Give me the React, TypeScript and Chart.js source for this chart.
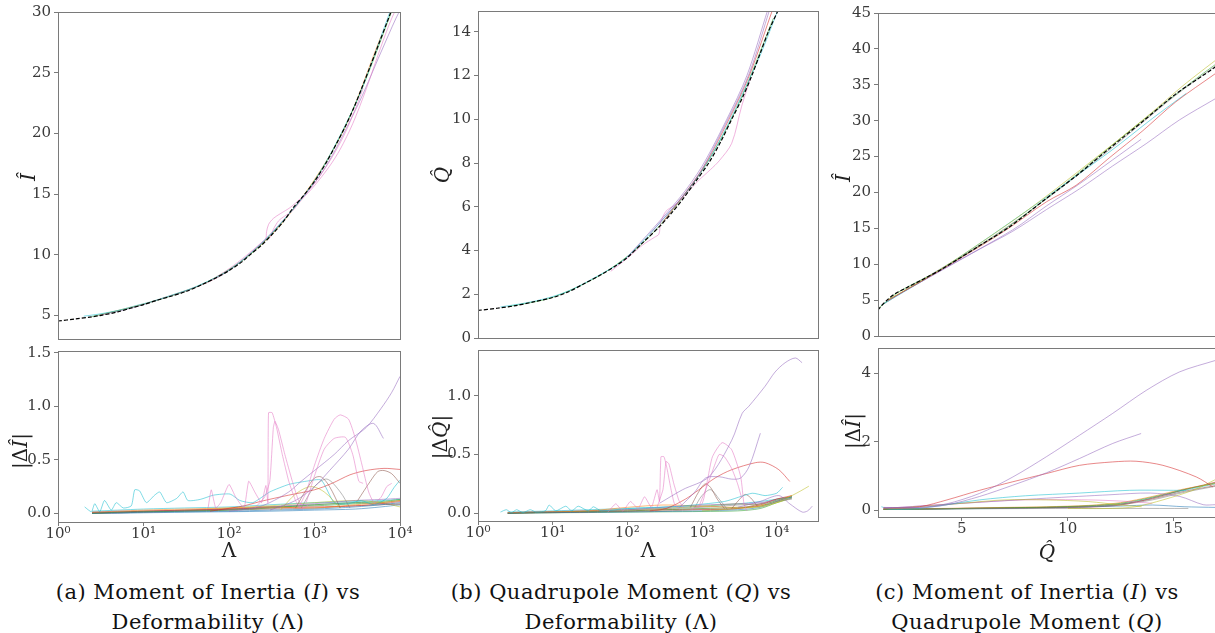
import React, { useEffect, useRef } from "react";
import { Chart, registerables } from "chart.js";
Chart.register(...registerables);

const AXIS_COLOR = "#7a7a7a";
const TICK_COLOR = "#3a3a3a";
const SERIF = '"DejaVu Serif", "Liberation Serif", serif';

const BLUE = "#1f77b4", ORANGE = "#ff7f0e", GREEN = "#2ca02c", RED = "#d62728", PURPLE = "#9467bd";
const BROWN = "#8c564b", PINK = "#e377c2", GRAY = "#7f7f7f", OLIVE = "#bcbd22", CYAN = "#17becf";

// ---------------- Panel (a) top: I-hat vs Lambda ----------------
const A_FIT_LAM = [1, 1.6, 2.5, 3.1, 5, 7, 10, 15, 20, 32, 50, 70, 100, 140, 176, 240, 331, 450, 565, 750, 1000, 1400, 1820, 2300, 2880, 3600, 4470, 5600, 7000, 8450, 10000];
const A_FIT_I = [4.55, 4.72, 4.9, 5.0, 5.3, 5.6, 5.9, 6.3, 6.55, 7.0, 7.6, 8.1, 8.7, 9.4, 10.0, 10.8, 11.8, 12.9, 13.9, 14.9, 16.05, 17.7, 19.2, 20.6, 22.1, 23.8, 25.5, 27.3, 29.1, 30.6, 32.0];
const A_T_CYAN_LAM = [2, 3, 5, 8.5, 12, 20, 40, 100, 300, 1000, 3000, 8000];
const A_T_CYAN_I = [4.95, 5.12, 5.42, 5.85, 6.12, 6.62, 7.35, 8.75, 11.6, 16.1, 22.4, 30.4];
const A_T_PINK1_LAM = [60, 100, 160, 230, 268, 275, 290, 330, 400, 520, 700, 1000, 1500, 2200, 3000, 3700];
const A_T_PINK1_I = [7.85, 8.85, 9.95, 10.9, 11.3, 11.9, 12.5, 13.0, 13.4, 13.9, 14.7, 15.9, 17.7, 19.8, 22.0, 23.7];
const A_T_PINK2_LAM = [300, 330, 380, 450, 550, 700, 1000, 1500, 2000, 2800, 4000, 5500, 7500, 10000];
const A_T_PINK2_I = [11.4, 12.1, 12.8, 13.2, 13.6, 14.5, 15.7, 17.3, 18.7, 20.8, 23.6, 26.4, 29.0, 31.0];
const A_T_PURPLE_LAM = [3, 10, 100, 1000, 3000, 6000, 9000, 12000];
const A_T_PURPLE_I = [5.0, 5.9, 8.7, 15.9, 21.9, 26.7, 29.5, 31.2];
const A_T_GREEN_LAM = [2.5, 10, 50, 200, 1000, 3000, 9000];
const A_T_GREEN_I = [4.92, 5.92, 7.62, 10.35, 16.1, 22.4, 31.0];
const A_T_ORANGE_LAM = [3, 15, 80, 400, 2000, 6000];
const A_T_ORANGE_I = [5.02, 6.32, 8.3, 12.45, 19.7, 28.0];

// ---------------- Panel (a) bottom: |dI| vs Lambda ----------------
const A_B_CYAN_LAM = [2.05, 2.46, 2.69, 3.08, 3.5, 4.2, 4.8, 5.8, 7.2, 7.9, 9, 10.8, 13.5, 15.5, 18.6, 24.5, 29, 33, 46, 66, 103, 134, 190, 300, 500, 800, 1200, 1700, 2500, 3500, 5000, 7000, 8500, 10000];
const A_B_CYAN_D = [0.06, 0.015, 0.09, 0.015, 0.12, 0.03, 0.1, 0.05, 0.07, 0.22, 0.21, 0.1, 0.17, 0.2, 0.1, 0.14, 0.2, 0.12, 0.13, 0.17, 0.18, 0.12, 0.1, 0.2, 0.27, 0.3, 0.31, 0.1, 0.09, 0.12, 0.08, 0.14, 0.24, 0.31];
const A_B_PINKA_LAM = [57, 62, 70, 80, 100, 120, 150, 170, 200, 240, 270, 285, 290, 320, 360, 420, 500, 600, 700, 850];
const A_B_PINKA_D = [0.05, 0.22, 0.05, 0.1, 0.27, 0.15, 0.05, 0.3, 0.2, 0.1, 0.26, 0.1, 0.94, 0.94, 0.8, 0.55, 0.3, 0.12, 0.04, 0.08];
const A_B_PINKB_LAM = [200, 260, 300, 330, 345, 380, 450, 550, 650, 750];
const A_B_PINKB_D = [0.05, 0.15, 0.3, 0.8, 0.86, 0.78, 0.55, 0.3, 0.12, 0.05];
const A_B_PINKC_LAM = [650, 800, 1000, 1300, 1700, 2000, 2500, 3000, 3600, 4300, 5000, 6000, 7000, 8000];
const A_B_PINKC_D = [0.05, 0.2, 0.45, 0.7, 0.88, 0.92, 0.88, 0.7, 0.45, 0.2, 0.1, 0.15, 0.25, 0.28];
const A_B_PINKD_LAM = [800, 1000, 1300, 1700, 2300, 2800, 3300, 3700];
const A_B_PINKD_D = [0.1, 0.35, 0.6, 0.7, 0.71, 0.55, 0.3, 0.28];
const A_B_PURPLE1_LAM = [100, 200, 300, 500, 700, 1000, 1700, 2500, 4000, 6000, 8000, 10000];
const A_B_PURPLE1_D = [0.02, 0.05, 0.1, 0.2, 0.3, 0.4, 0.55, 0.68, 0.8, 0.98, 1.13, 1.28];
const A_B_PURPLE2_LAM = [300, 600, 1000, 1500, 2500, 3500, 4900, 6400];
const A_B_PURPLE2_D = [0.03, 0.12, 0.25, 0.4, 0.6, 0.77, 0.84, 0.7];
const A_B_RED_LAM = [60, 150, 230, 500, 1000, 1600, 2600, 4000, 6500, 10000];
const A_B_RED_D = [0.02, 0.07, 0.11, 0.17, 0.22, 0.28, 0.36, 0.4, 0.42, 0.41];
const A_B_BROWN1_LAM = [3200, 4500, 5500, 6500, 8000, 10000];
const A_B_BROWN1_D = [0.12, 0.3, 0.39, 0.4, 0.37, 0.28];
const A_B_BROWN2_LAM = [600, 800, 1000, 1200, 1500, 2000];
const A_B_BROWN2_D = [0.05, 0.22, 0.33, 0.34, 0.25, 0.05];
const A_B_OLIVE_LAM = [400, 600, 900, 1300, 2000];
const A_B_OLIVE_D = [0.03, 0.18, 0.25, 0.2, 0.05];
const A_B_GRAY_LAM = [700, 1000, 1400, 2000, 2600];
const A_B_GRAY_D = [0.05, 0.25, 0.32, 0.2, 0.05];
const A_BAND_LAM = [2.5, 5, 10, 30, 100, 300, 1000, 3000, 6000, 10000];
const A_BAND_BLUE = [0.0, 0.005, 0.01, 0.015, 0.02, 0.03, 0.04, 0.06, 0.08, 0.1];
const A_BAND_ORANGE = [0.01, 0.02, 0.03, 0.04, 0.05, 0.06, 0.05, 0.08, 0.1, 0.12];
const A_BAND_GREEN = [0.0, 0.01, 0.015, 0.02, 0.03, 0.05, 0.08, 0.1, 0.11, 0.13];
const A_BAND_RED = [0.005, 0.01, 0.02, 0.03, 0.04, 0.05, 0.06, 0.07, 0.09, 0.11];
const A_BAND_PURPLE = [0.01, 0.02, 0.02, 0.03, 0.04, 0.06, 0.09, 0.12, 0.13, 0.14];
const A_BAND_BROWN = [0.0, 0.005, 0.01, 0.02, 0.03, 0.04, 0.05, 0.07, 0.08, 0.09];
const A_BAND_GRAY = [0.01, 0.015, 0.02, 0.025, 0.035, 0.06, 0.08, 0.1, 0.09, 0.08];
const A_BAND_OLIVE = [0.0, 0.01, 0.02, 0.03, 0.05, 0.07, 0.1, 0.12, 0.1, 0.06];
const A_BAND_CYAN = [0.02, 0.03, 0.04, 0.05, 0.06, 0.08, 0.1, 0.11, 0.12, 0.13];
const A_BAND_BLUE2 = [0.0, 0.0, 0.005, 0.01, 0.015, 0.02, 0.03, 0.04, 0.06, 0.08];
const A_BAND_GREEN2 = [0.005, 0.01, 0.015, 0.025, 0.04, 0.06, 0.07, 0.09, 0.1, 0.12];

// ---------------- Panel (b) top: Q-hat vs Lambda ----------------
const B_FIT_LAM = [1, 1.8, 3.2, 5.5, 10, 16, 27, 45, 70, 100, 160, 280, 400, 540, 800, 1230, 1800, 2500, 3500, 4650, 6000, 7740, 10500, 13000];
const B_FIT_Q = [1.26, 1.36, 1.48, 1.65, 1.85, 2.1, 2.5, 2.9, 3.3, 3.68, 4.35, 5.15, 5.75, 6.3, 7.1, 8.0, 9.0, 10.0, 11.0, 12.0, 13.0, 14.0, 15.0, 15.8];
const B_T_PURPLE_LAM = [100, 500, 1000, 2150, 4000, 7600, 9500];
const B_T_PURPLE_Q = [3.7, 6.4, 7.85, 10.0, 12.0, 15.0, 16.0];
const B_T_PURPLE2_LAM = [200, 800, 2300, 4300, 8200];
const B_T_PURPLE2_Q = [4.75, 7.2, 10.1, 12.1, 15.1];
const B_T_RED_LAM = [300, 1000, 2300, 4300, 8800, 11000];
const B_T_RED_Q = [5.3, 7.7, 10.0, 12.0, 15.0, 15.9];
const B_T_PINK_LAM = [60, 100, 160, 230, 265, 280, 330, 420, 490, 600, 900, 1300, 1700, 2500, 3400, 4500];
const B_T_PINK_Q = [3.05, 3.65, 4.25, 4.6, 4.75, 5.3, 5.8, 6.05, 6.25, 6.55, 7.2, 7.7, 8.1, 8.9, 10.6, 11.9];
const B_T_CYAN_LAM = [2, 4, 8, 15, 30, 100, 1000, 5000, 11000];
const B_T_CYAN_Q = [1.42, 1.58, 1.8, 2.1, 2.6, 3.72, 7.65, 12.3, 15.2];
const B_T_GREEN_LAM = [2.5, 10, 50, 200, 1000, 3000, 9000];
const B_T_GREEN_Q = [1.43, 1.86, 3.0, 4.65, 7.65, 10.6, 14.6];

// ---------------- Panel (b) bottom: |dQ| vs Lambda ----------------
const B_B_PURPLE1_LAM = [270, 550, 1240, 2500, 3460, 4250, 7000, 9500, 13000, 17800, 21900];
const B_B_PURPLE1_D = [0.085, 0.2, 0.31, 0.62, 0.85, 0.91, 1.08, 1.2, 1.28, 1.32, 1.28];
const B_B_PURPLE2_LAM = [500, 800, 1120, 1700, 2500, 3300, 4300, 6050];
const B_B_PURPLE2_D = [0.05, 0.18, 0.3, 0.31, 0.29, 0.3, 0.4, 0.68];
const B_B_PURPLE3_LAM = [3000, 6000, 10700, 15000, 22000, 26000, 30000];
const B_B_PURPLE3_D = [0.05, 0.1, 0.15, 0.08, 0.01, 0.02, 0.06];
const B_B_PINKA_LAM = [55, 70, 87, 110, 140, 170, 210, 250, 270, 282, 310, 340, 380, 425, 500];
const B_B_PINKA_D = [0.01, 0.08, 0.02, 0.1, 0.04, 0.14, 0.05, 0.2, 0.1, 0.48, 0.48, 0.38, 0.22, 0.085, 0.03];
const B_B_PINKB_LAM = [250, 300, 330, 360, 420, 490, 560];
const B_B_PINKB_D = [0.05, 0.2, 0.44, 0.42, 0.25, 0.11, 0.05];
const B_B_PINKC_LAM = [700, 1000, 1200, 1380, 1860, 2500, 3300, 3650, 4000];
const B_B_PINKC_D = [0.03, 0.08, 0.3, 0.48, 0.6, 0.54, 0.31, 0.08, 0.02];
const B_B_PINKD_LAM = [900, 1200, 1500, 1700, 2000, 2500, 3000, 3400];
const B_B_PINKD_D = [0.05, 0.25, 0.42, 0.5, 0.48, 0.38, 0.25, 0.13];
const B_B_RED_LAM = [200, 330, 600, 910, 1500, 2500, 5200, 7000, 10700, 15000];
const B_B_RED_D = [0.02, 0.04, 0.12, 0.2, 0.3, 0.37, 0.43, 0.43, 0.37, 0.27];
const B_B_CYAN_LAM = [2, 2.4, 2.8, 3.3, 4, 5, 6, 8, 9, 11, 15, 18, 22, 30, 35, 45, 100, 500, 2000, 4700, 7000, 10000, 12000];
const B_B_CYAN_D = [0.01, 0.03, 0.005, 0.03, 0.005, 0.03, 0.01, 0.02, 0.07, 0.02, 0.06, 0.02, 0.06, 0.02, 0.055, 0.02, 0.04, 0.06, 0.1, 0.17, 0.15, 0.17, 0.22];
const B_B_OLIVE_LAM = [1000, 3000, 7000, 11000, 16000, 21000, 27000];
const B_B_OLIVE_D = [0.02, 0.04, 0.06, 0.1, 0.15, 0.19, 0.23];
const B_B_BROWN1_LAM = [700, 900, 1100, 1300, 1600, 2000];
const B_B_BROWN1_D = [0.05, 0.18, 0.25, 0.22, 0.12, 0.04];
const B_B_BROWN2_LAM = [2500, 3200, 3800, 4500, 5500];
const B_B_BROWN2_D = [0.04, 0.12, 0.16, 0.13, 0.06];
const B_B_GRAY_LAM = [800, 1000, 1300, 1700, 2200];
const B_B_GRAY_D = [0.05, 0.15, 0.2, 0.12, 0.03];
const B_BAND_LAM = [2.5, 5, 10, 30, 100, 300, 1000, 3000, 6000, 10000, 16000];
const B_BAND_BLUE = [0.0, 0.003, 0.005, 0.008, 0.01, 0.015, 0.02, 0.03, 0.05, 0.1, 0.14];
const B_BAND_ORANGE = [0.005, 0.01, 0.012, 0.02, 0.05, 0.07, 0.06, 0.05, 0.06, 0.1, 0.15];
const B_BAND_GREEN = [0.0, 0.005, 0.01, 0.015, 0.02, 0.03, 0.04, 0.05, 0.06, 0.11, 0.14];
const B_BAND_RED = [0.0, 0.005, 0.008, 0.012, 0.02, 0.03, 0.035, 0.04, 0.07, 0.12, 0.15];
const B_BAND_PURPLE = [0.005, 0.01, 0.015, 0.02, 0.03, 0.05, 0.07, 0.08, 0.09, 0.11, 0.13];
const B_BAND_BROWN = [0.0, 0.003, 0.005, 0.01, 0.015, 0.02, 0.03, 0.04, 0.08, 0.12, 0.14];
const B_BAND_GRAY = [0.003, 0.008, 0.012, 0.02, 0.03, 0.04, 0.05, 0.07, 0.08, 0.1, 0.12];
const B_BAND_OLIVE = [0.0, 0.005, 0.01, 0.02, 0.03, 0.04, 0.06, 0.08, 0.07, 0.09, 0.13];
const B_BAND_CYAN = [0.01, 0.015, 0.02, 0.03, 0.04, 0.05, 0.06, 0.08, 0.1, 0.12, 0.14];
const B_BAND_GREEN2 = [0.0, 0.002, 0.004, 0.006, 0.01, 0.012, 0.015, 0.02, 0.04, 0.09, 0.13];

// ---------------- Panel (c) top: I-hat vs Q-hat ----------------
const C_FIT_Q = [1.03, 1.2, 1.43, 1.8, 2.37, 3.2, 4.1, 5.68, 7.25, 8.83, 10.4, 12.0, 13.55, 15.1, 16.94, 17.5];
const C_FIT_I = [3.6, 4.2, 4.9, 5.8, 6.7, 7.95, 9.4, 12.3, 15.2, 18.8, 22.3, 26.2, 29.9, 33.7, 37.4, 38.7];
const C_T_OLIVE_Q = [1.5, 4, 8, 12, 14, 15.5, 17.2];
const C_T_OLIVE_I = [5.0, 9.3, 17.3, 26.4, 31.2, 35.0, 38.9];
const C_T_RED_Q = [1.5, 4, 7, 9, 10.4, 12, 13.55, 15.1, 17.0];
const C_T_RED_I = [4.95, 9.2, 14.6, 18.7, 21.0, 24.9, 28.6, 32.6, 36.6];
const C_T_PURPLE1_Q = [1.5, 4.26, 5.84, 7.41, 8.99, 10.56, 12.13, 13.71, 15.28, 17.0];
const C_T_PURPLE1_I = [4.95, 9.5, 12.1, 14.6, 17.6, 20.5, 23.7, 26.8, 30.1, 33.1];
const C_T_PURPLE2_Q = [1.5, 4.26, 7.41, 8.99, 10.56, 12.13, 13.47];
const C_T_PURPLE2_I = [4.95, 9.55, 14.8, 18.1, 21.2, 24.55, 27.4];
const C_T_CYAN_Q = [1.2, 4, 8, 12, 14, 15.6];
const C_T_CYAN_I = [4.3, 9.25, 17.3, 25.7, 30.3, 33.8];
const C_T_GREEN_Q = [1.1, 2, 4, 7, 10, 13, 16, 17.2];
const C_T_GREEN_I = [3.95, 6.1, 9.25, 14.8, 21.5, 28.75, 35.7, 38.3];
const C_T_GRAY_Q = [1.2, 3, 6, 9, 12, 15, 17.2];
const C_T_GRAY_I = [4.25, 7.6, 12.95, 19.1, 26.0, 33.3, 38.1];

// ---------------- Panel (c) bottom: |dI| vs Q-hat ----------------
const C_B_PURPLE1_Q = [1.3, 3.0, 4.26, 5.84, 7.41, 8.99, 10.56, 12.13, 13.71, 15.28, 17.0];
const C_B_PURPLE1_D = [0.08, 0.08, 0.18, 0.49, 0.97, 1.56, 2.19, 2.83, 3.5, 4.04, 4.38];
const C_B_PURPLE2_Q = [1.3, 3.0, 4.26, 5.84, 7.41, 8.99, 10.56, 12.13, 13.47];
const C_B_PURPLE2_D = [0.07, 0.08, 0.15, 0.4, 0.73, 1.09, 1.51, 1.95, 2.24];
const C_B_RED_Q = [1.3, 3.0, 4.3, 5.84, 7.41, 8.99, 10.56, 12.13, 13.23, 14.5, 16.08, 16.86];
const C_B_RED_D = [0.06, 0.1, 0.3, 0.58, 0.83, 1.07, 1.31, 1.41, 1.43, 1.31, 0.97, 0.68];
const C_B_CYAN_Q = [1.2, 1.6, 3, 5.84, 8, 10.56, 12.92, 15.0, 15.6];
const C_B_CYAN_D = [0.1, 0.03, 0.05, 0.3, 0.42, 0.5, 0.58, 0.58, 0.58];
const C_B_OLIVE_Q = [1.3, 3, 5, 7, 9, 11, 12.5, 13.5];
const C_B_OLIVE_D = [0.05, 0.1, 0.2, 0.3, 0.3, 0.25, 0.15, 0.1];
const C_B_YELLOW_Q = [10, 12, 13.2, 14.5, 16, 17.0];
const C_B_YELLOW_D = [0.05, 0.05, 0.1, 0.3, 0.6, 0.9];
const C_B_PURPLE3_Q = [1.3, 5, 9, 12, 13.9, 15.3, 16.4, 17.0];
const C_B_PURPLE3_D = [0.05, 0.2, 0.35, 0.45, 0.5, 0.4, 0.16, 0.16];
const C_B_PINK_Q = [1.3, 5, 8, 11, 13, 14];
const C_B_PINK_D = [0.05, 0.2, 0.3, 0.3, 0.25, 0.2];
const C_B_GRAY_Q = [1.3, 5, 10, 15.7];
const C_B_GRAY_D = [0.03, 0.04, 0.05, 0.05];
const C_BAND_Q = [1.3, 3, 5, 7, 9, 11, 12.5, 14, 15.5, 17.0];
const C_BAND_GREEN = [0.02, 0.03, 0.05, 0.07, 0.09, 0.13, 0.2, 0.38, 0.6, 0.8];
const C_BAND_ORANGE = [0.03, 0.04, 0.06, 0.08, 0.1, 0.14, 0.22, 0.4, 0.62, 0.78];
const C_BAND_BROWN = [0.02, 0.03, 0.04, 0.06, 0.08, 0.12, 0.18, 0.33, 0.55, 0.72];
const C_BAND_GRAY = [0.03, 0.04, 0.05, 0.07, 0.08, 0.1, 0.16, 0.3, 0.52, 0.7];
const C_BAND_BLUE = [0.02, 0.03, 0.05, 0.06, 0.08, 0.1, 0.12, 0.15, 0.1, 0.08];
const C_BAND_RED = [0.03, 0.04, 0.05, 0.06, 0.07, 0.09, 0.15, 0.35, 0.6, 0.82];
const C_BAND_TEAL = [0.02, 0.03, 0.04, 0.05, 0.07, 0.1, 0.17, 0.36, 0.58, 0.77];

// ---------------- Ticks ----------------
const LOG_TICKS = [1, 10, 100, 1000, 10000];
const LOG_TICK_LABELS = ["10⁰", "10¹", "10²", "10³", "10⁴"];
const A_TOP_YTICKS = [5, 10, 15, 20, 25, 30];
const A_BOT_YTICKS = [0, 0.5, 1.0, 1.5];
const A_BOT_YLABELS = ["0.0", "0.5", "1.0", "1.5"];
const B_TOP_YTICKS = [0, 2, 4, 6, 8, 10, 12, 14];
const B_BOT_YTICKS = [0, 0.5, 1.0];
const B_BOT_YLABELS = ["0.0", "0.5", "1.0"];
const C_TOP_YTICKS = [0, 5, 10, 15, 20, 25, 30, 35, 40, 45];
const C_BOT_YTICKS = [0, 2, 4];
const C_XTICKS = [5, 10, 15];

type Line = { x: number[]; y: number[]; color: string; fit?: boolean; tension?: number };
type Spec = {
  l: number; t: number; r: number; b: number;
  xType: "logarithmic" | "linear"; xMin: number; xMax: number;
  yMin: number; yMax: number;
  yTicks: number[]; yLabels: string[];
  xTicks?: number[]; xLabels?: string[];
};

const L = (x: number[], y: number[], color: string, tension = 0.3): Line => ({ x, y, color, tension });
const FIT = (x: number[], y: number[]): Line => ({ x, y, color: "#000", fit: true, tension: 0.3 });

function hexA(hex: string, a: number) {
  const n = parseInt(hex.slice(1), 16);
  return `rgba(${(n >> 16) & 255},${(n >> 8) & 255},${n & 255},${a})`;
}

const framePlugin = {
  id: "frame",
  afterDatasetsDraw(chart: any) {
    const { ctx, chartArea: a } = chart;
    ctx.save();
    ctx.strokeStyle = AXIS_COLOR;
    ctx.lineWidth = 1;
    const l = Math.round(a.left) + 0.5, t = Math.round(a.top) + 0.5;
    ctx.strokeRect(l, t, Math.round(a.right) - Math.round(a.left), Math.round(a.bottom) - Math.round(a.top));
    ctx.restore();
  },
};

const YW = 60, PT = 14, PR = 22;

function Panel({ spec, lines }: { spec: Spec; lines: Line[] }) {
  const ref = useRef<HTMLCanvasElement>(null);
  const XH = spec.xTicks ? 32 : 0;
  const w = YW + (spec.r - spec.l) + PR;
  const h = PT + (spec.b - spec.t) + XH;
  useEffect(() => {
    const font = { family: SERIF, size: 15 };
    const chart = new Chart(ref.current as HTMLCanvasElement, {
      type: "line",
      data: {
        datasets: lines.map((ln) => ({
          data: ln.x.map((x, i) => ({ x, y: ln.y[i] })),
          borderColor: ln.fit ? "#000" : hexA(ln.color, 0.55),
          borderWidth: ln.fit ? 1.2 : 1,
          borderDash: ln.fit ? [4, 2] : [],
          pointRadius: 0,
          tension: ln.tension ?? 0.3,
          fill: false,
        })),
      },
      options: {
        responsive: false,
        animation: false,
        devicePixelRatio: 1,
        events: [],
        layout: { padding: { left: 0, top: PT, right: PR, bottom: 0 } },
        plugins: { legend: { display: false }, tooltip: { enabled: false } },
        scales: {
          x: {
            type: spec.xType,
            min: spec.xMin,
            max: spec.xMax,
            display: !!spec.xTicks,
            afterFit: (s: any) => { s.height = XH; },
            afterBuildTicks: (s: any) => { if (spec.xTicks) s.ticks = spec.xTicks.map((v) => ({ value: v })); },
            ticks: {
              autoSkip: false, maxRotation: 0, minRotation: 0, padding: -1, color: TICK_COLOR, font,
              callback: (_v: any, i: number) => (spec.xLabels ? spec.xLabels[i] : ""),
            },
            grid: { drawOnChartArea: false, drawTicks: true, tickLength: 4, color: AXIS_COLOR },
            border: { display: false },
          },
          y: {
            type: "linear",
            min: spec.yMin,
            max: spec.yMax,
            afterFit: (s: any) => { s.width = YW; },
            afterBuildTicks: (s: any) => { s.ticks = spec.yTicks.map((v) => ({ value: v })); },
            ticks: {
              autoSkip: false, padding: 3, color: TICK_COLOR, font,
              callback: (_v: any, i: number) => spec.yLabels[i],
            },
            grid: { drawOnChartArea: false, drawTicks: true, tickLength: 4, color: AXIS_COLOR },
            border: { display: false },
          },
        },
      } as any,
      plugins: [framePlugin],
    });
    return () => chart.destroy();
  }, []);
  return (
    <canvas
      ref={ref}
      width={w}
      height={h}
      style={{ position: "absolute", left: spec.l - YW, top: spec.t - PT, width: w, height: h }}
    />
  );
}

const SPEC_A_TOP: Spec = { l: 58, t: 12, r: 400, b: 351, xType: "logarithmic", xMin: 1, xMax: 10000, yMin: 3.07, yMax: 30, yTicks: A_TOP_YTICKS, yLabels: A_TOP_YTICKS.map(String) };
const SPEC_A_BOT: Spec = { l: 58, t: 351, r: 400, b: 522, xType: "logarithmic", xMin: 1, xMax: 10000, yMin: -0.081, yMax: 1.517, yTicks: A_BOT_YTICKS, yLabels: A_BOT_YLABELS, xTicks: LOG_TICKS, xLabels: LOG_TICK_LABELS };
const SPEC_B_TOP: Spec = { l: 478, t: 11, r: 818, b: 350, xType: "logarithmic", xMin: 1, xMax: 35800, yMin: 0, yMax: 14.95, yTicks: B_TOP_YTICKS, yLabels: B_TOP_YTICKS.map(String) };
const SPEC_B_BOT: Spec = { l: 478, t: 350, r: 818, b: 521, xType: "logarithmic", xMin: 1, xMax: 35800, yMin: -0.066, yMax: 1.388, yTicks: B_BOT_YTICKS, yLabels: B_BOT_YLABELS, xTicks: LOG_TICKS, xLabels: LOG_TICK_LABELS };
const SPEC_C_TOP: Spec = { l: 878, t: 13, r: 1215, b: 348, xType: "linear", xMin: 1.04, xMax: 16.96, yMin: 0, yMax: 45, yTicks: C_TOP_YTICKS, yLabels: C_TOP_YTICKS.map(String) };
const SPEC_C_BOT: Spec = { l: 878, t: 348, r: 1215, b: 517, xType: "linear", xMin: 1.04, xMax: 16.96, yMin: -0.2, yMax: 4.74, yTicks: C_BOT_YTICKS, yLabels: C_BOT_YTICKS.map(String), xTicks: C_XTICKS, xLabels: C_XTICKS.map(String) };

const LINES_A_TOP: Line[] = [
  FIT(A_FIT_LAM, A_FIT_I),
  L(A_T_CYAN_LAM, A_T_CYAN_I, CYAN),
  L(A_T_PINK1_LAM, A_T_PINK1_I, PINK),
  L(A_T_PINK2_LAM, A_T_PINK2_I, PINK),
  L(A_T_PURPLE_LAM, A_T_PURPLE_I, PURPLE),
  L(A_T_GREEN_LAM, A_T_GREEN_I, GREEN),
  L(A_T_ORANGE_LAM, A_T_ORANGE_I, ORANGE),
];
const LINES_A_BOT: Line[] = [
  L(A_B_PINKA_LAM, A_B_PINKA_D, PINK, 0.15),
  L(A_B_PINKB_LAM, A_B_PINKB_D, PINK, 0.15),
  L(A_B_PINKC_LAM, A_B_PINKC_D, PINK, 0.2),
  L(A_B_PINKD_LAM, A_B_PINKD_D, PINK, 0.2),
  L(A_B_PURPLE1_LAM, A_B_PURPLE1_D, PURPLE),
  L(A_B_PURPLE2_LAM, A_B_PURPLE2_D, PURPLE),
  L(A_B_RED_LAM, A_B_RED_D, RED),
  L(A_B_BROWN1_LAM, A_B_BROWN1_D, BROWN),
  L(A_B_BROWN2_LAM, A_B_BROWN2_D, BROWN),
  L(A_B_OLIVE_LAM, A_B_OLIVE_D, OLIVE),
  L(A_B_GRAY_LAM, A_B_GRAY_D, GRAY),
  L(A_B_CYAN_LAM, A_B_CYAN_D, CYAN, 0.2),
  L(A_BAND_LAM, A_BAND_BLUE, BLUE),
  L(A_BAND_LAM, A_BAND_ORANGE, ORANGE),
  L(A_BAND_LAM, A_BAND_GREEN, GREEN),
  L(A_BAND_LAM, A_BAND_RED, RED),
  L(A_BAND_LAM, A_BAND_PURPLE, PURPLE),
  L(A_BAND_LAM, A_BAND_BROWN, BROWN),
  L(A_BAND_LAM, A_BAND_GRAY, GRAY),
  L(A_BAND_LAM, A_BAND_OLIVE, OLIVE),
  L(A_BAND_LAM, A_BAND_CYAN, CYAN),
  L(A_BAND_LAM, A_BAND_BLUE2, BLUE),
  L(A_BAND_LAM, A_BAND_GREEN2, GREEN),
];
const LINES_B_TOP: Line[] = [
  FIT(B_FIT_LAM, B_FIT_Q),
  L(B_T_PURPLE_LAM, B_T_PURPLE_Q, PURPLE),
  L(B_T_PURPLE2_LAM, B_T_PURPLE2_Q, PURPLE),
  L(B_T_RED_LAM, B_T_RED_Q, RED),
  L(B_T_PINK_LAM, B_T_PINK_Q, PINK),
  L(B_T_CYAN_LAM, B_T_CYAN_Q, CYAN),
  L(B_T_GREEN_LAM, B_T_GREEN_Q, GREEN),
];
const LINES_B_BOT: Line[] = [
  L(B_B_PURPLE1_LAM, B_B_PURPLE1_D, PURPLE),
  L(B_B_PURPLE2_LAM, B_B_PURPLE2_D, PURPLE),
  L(B_B_PURPLE3_LAM, B_B_PURPLE3_D, PURPLE),
  L(B_B_PINKA_LAM, B_B_PINKA_D, PINK, 0.15),
  L(B_B_PINKB_LAM, B_B_PINKB_D, PINK, 0.15),
  L(B_B_PINKC_LAM, B_B_PINKC_D, PINK, 0.2),
  L(B_B_PINKD_LAM, B_B_PINKD_D, PINK, 0.2),
  L(B_B_RED_LAM, B_B_RED_D, RED),
  L(B_B_CYAN_LAM, B_B_CYAN_D, CYAN, 0.2),
  L(B_B_OLIVE_LAM, B_B_OLIVE_D, OLIVE),
  L(B_B_BROWN1_LAM, B_B_BROWN1_D, BROWN),
  L(B_B_BROWN2_LAM, B_B_BROWN2_D, BROWN),
  L(B_B_GRAY_LAM, B_B_GRAY_D, GRAY),
  L(B_BAND_LAM, B_BAND_BLUE, BLUE),
  L(B_BAND_LAM, B_BAND_ORANGE, ORANGE),
  L(B_BAND_LAM, B_BAND_GREEN, GREEN),
  L(B_BAND_LAM, B_BAND_RED, RED),
  L(B_BAND_LAM, B_BAND_PURPLE, PURPLE),
  L(B_BAND_LAM, B_BAND_BROWN, BROWN),
  L(B_BAND_LAM, B_BAND_GRAY, GRAY),
  L(B_BAND_LAM, B_BAND_OLIVE, OLIVE),
  L(B_BAND_LAM, B_BAND_CYAN, CYAN),
  L(B_BAND_LAM, B_BAND_GREEN2, GREEN),
];
const LINES_C_TOP: Line[] = [
  FIT(C_FIT_Q, C_FIT_I),
  L(C_T_OLIVE_Q, C_T_OLIVE_I, OLIVE),
  L(C_T_RED_Q, C_T_RED_I, RED),
  L(C_T_PURPLE1_Q, C_T_PURPLE1_I, PURPLE),
  L(C_T_PURPLE2_Q, C_T_PURPLE2_I, PURPLE),
  L(C_T_CYAN_Q, C_T_CYAN_I, CYAN),
  L(C_T_GREEN_Q, C_T_GREEN_I, GREEN),
  L(C_T_GRAY_Q, C_T_GRAY_I, GRAY),
];
const LINES_C_BOT: Line[] = [
  L(C_B_PURPLE1_Q, C_B_PURPLE1_D, PURPLE),
  L(C_B_PURPLE2_Q, C_B_PURPLE2_D, PURPLE),
  L(C_B_RED_Q, C_B_RED_D, RED),
  L(C_B_CYAN_Q, C_B_CYAN_D, CYAN),
  L(C_B_OLIVE_Q, C_B_OLIVE_D, OLIVE),
  L(C_B_YELLOW_Q, C_B_YELLOW_D, OLIVE),
  L(C_B_PURPLE3_Q, C_B_PURPLE3_D, PURPLE),
  L(C_B_PINK_Q, C_B_PINK_D, PINK),
  L(C_B_GRAY_Q, C_B_GRAY_D, GRAY),
  L(C_BAND_Q, C_BAND_GREEN, GREEN),
  L(C_BAND_Q, C_BAND_ORANGE, ORANGE),
  L(C_BAND_Q, C_BAND_BROWN, BROWN),
  L(C_BAND_Q, C_BAND_GRAY, GRAY),
  L(C_BAND_Q, C_BAND_BLUE, BLUE),
  L(C_BAND_Q, C_BAND_RED, RED),
  L(C_BAND_Q, C_BAND_TEAL, CYAN),
];

function Label({ x, y, rot, size = 20, children }: { x: number; y: number; rot?: boolean; size?: number; children: React.ReactNode }) {
  return (
    <div
      style={{
        position: "absolute", left: x, top: y,
        transform: `translate(-50%, -50%)${rot ? " rotate(-90deg)" : ""}`,
        fontSize: size, lineHeight: 1, whiteSpace: "nowrap", color: "#222", fontFamily: SERIF,
      }}
    >
      {children}
    </div>
  );
}

function Caption({ cx, children }: { cx: number; children: React.ReactNode }) {
  return (
    <div
      style={{
        position: "absolute", left: cx, top: 577, transform: "translateX(-50%)",
        textAlign: "center", fontSize: 21, lineHeight: "30px", whiteSpace: "nowrap",
        color: "#111", fontFamily: SERIF, letterSpacing: "0.5px",
      }}
    >
      {children}
    </div>
  );
}

const IHAT = <i>Î</i>;
const QHAT = <i>Q&#x302;</i>;

export default function App() {
  return (
    <div style={{ position: "fixed", left: 0, top: 0, width: 1215, height: 633, background: "#fff", overflow: "hidden" }}>
      <Panel spec={SPEC_A_TOP} lines={LINES_A_TOP} />
      <Panel spec={SPEC_A_BOT} lines={LINES_A_BOT} />
      <Panel spec={SPEC_B_TOP} lines={LINES_B_TOP} />
      <Panel spec={SPEC_B_BOT} lines={LINES_B_BOT} />
      <Panel spec={SPEC_C_TOP} lines={LINES_C_TOP} />
      <Panel spec={SPEC_C_BOT} lines={LINES_C_BOT} />

      <Label x={28} y={177} rot>{IHAT}</Label>
      <Label x={20} y={451} rot>|Δ{IHAT}|</Label>
      <Label x={229} y={550}>Λ</Label>

      <Label x={442} y={175} rot>{QHAT}</Label>
      <Label x={440} y={437} rot>|Δ{QHAT}|</Label>
      <Label x={648} y={550}>Λ</Label>

      <Label x={843} y={178} rot>{IHAT}</Label>
      <Label x={853} y={431} rot>|Δ{IHAT}|</Label>
      <Label x={1047} y={552}>{QHAT}</Label>

      <Caption cx={208}>(a) Moment of Inertia (<i>I</i>) vs<br />Deformability (Λ)</Caption>
      <Caption cx={621}>(b) Quadrupole Moment (<i>Q</i>) vs<br />Deformability (Λ)</Caption>
      <Caption cx={1027}>(c) Moment of Inertia (<i>I</i>) vs<br />Quadrupole Moment (<i>Q</i>)</Caption>
    </div>
  );
}
